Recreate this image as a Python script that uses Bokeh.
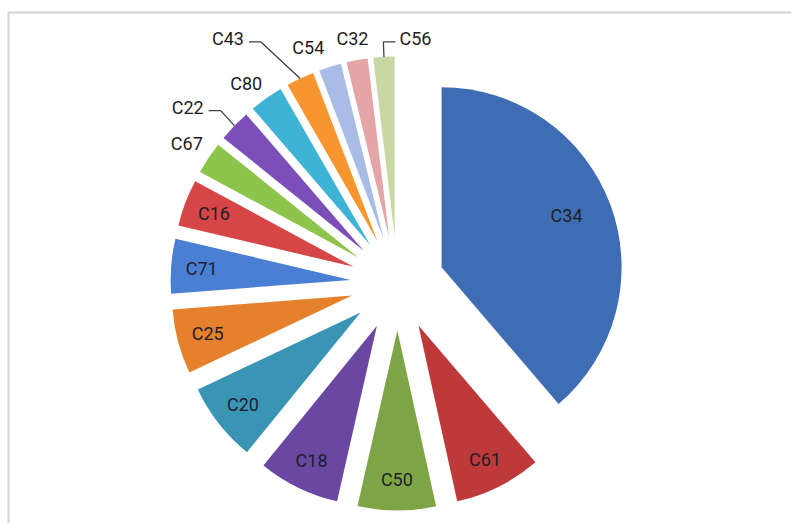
import numpy as np
from bokeh.plotting import figure
from bokeh.models import Range1d, ColumnDataSource
from bokeh.embed import file_html
from bokeh.resources import INLINE
from bokeh.core.properties import value

# Slices in clockwise order starting at 12 o'clock
labels = ["C34", "C61", "C50", "C18", "C20", "C25", "C71", "C16",
          "C67", "C22", "C80", "C43", "C54", "C32", "C56"]
shares = [38.7, 7.8, 7.0, 7.3, 7.1, 5.8, 4.9, 4.2,
          2.9, 2.9, 3.0, 2.5, 2.0, 1.9, 1.9]
colors = ["#3F6DB3", "#BE3A3A", "#7EA545", "#6A47A0", "#3A95B5", "#E5802C",
          "#4A80D3", "#D64646", "#8DC44C", "#7C4FB8", "#3FB3D6", "#F7952F",
          "#A8BCE6", "#E3A5A6", "#C8D8A4"]

W, H = 791, 523
CX, CY = 397.0, H - 283.0      # pie centre (data units = pixels, y up)
R = 180.0                      # slice radius
EXPLODE = 47.0                 # distance every slice is pulled out
INSIDE_MIN = 4.0               # slices at least this big carry their label inside

# nudges (screen px, y down) for outside labels that would collide
nudge = {"C22": (-28, 0), "C80": (-5, 6), "C43": (-61, -16),
         "C54": (-14, 6), "C32": (0, 4), "C56": (33, 8)}
leader_for = {"C22", "C43", "C56"}

vals = np.array(shares, dtype=float)
frac = vals / vals.sum()
cum = np.concatenate([[0.0], np.cumsum(frac)]) * 360.0   # clockwise degrees from top
t0, t1 = cum[:-1], cum[1:]
tm = (t0 + t1) / 2.0

start = np.radians(90.0 - t0)
end = np.radians(90.0 - t1)
mid = np.radians(90.0 - tm)
dx, dy = np.cos(mid), np.sin(mid)
ax = CX + EXPLODE * dx
ay = CY + EXPLODE * dy

p = figure(width=W, height=H, x_range=Range1d(0, W), y_range=Range1d(0, H),
           output_backend="svg", toolbar_location=None, min_border=0,
           x_axis_location=None, y_axis_location=None)
p.xgrid.visible = False
p.ygrid.visible = False
p.outline_line_color = None
p.background_fill_color = "white"
p.border_fill_color = "white"

# chart-area border
p.line([8, 8], [H - 12, 0], line_color="#D4D4D4", line_width=2)
p.line([8, W], [H - 12, H - 12], line_color="#D4D4D4", line_width=2)

src = ColumnDataSource(dict(x=ax, y=ay, start=start, end=end, color=colors))
p.wedge(x="x", y="y", radius=R, start_angle="start", end_angle="end",
        direction="clock", fill_color="color", line_color=None, source=src)

in_x, in_y, in_t = [], [], []
out_x, out_y, out_t = [], [], []
lead_xs, lead_ys = [], []
largest = int(np.argmax(vals))
HALF_W = 17
for i, lab in enumerate(labels):
    if vals[i] >= INSIDE_MIN:
        f = 0.74 if i == largest else 0.83
        in_x.append(ax[i] + f * R * dx[i])
        in_y.append(ay[i] + f * R * dy[i] + (6 if i == largest else 0))
        in_t.append(lab)
    else:
        nx, ny = nudge.get(lab, (0, 0))
        lx = ax[i] + (R + 26) * dx[i] + nx
        ly = ay[i] + (R + 26) * dy[i] - ny
        out_x.append(lx)
        out_y.append(ly)
        out_t.append(lab)
        if lab in leader_for:
            tx = ax[i] + R * dx[i]
            ty = ay[i] + R * dy[i]
            hy = ly - 3
            if lx < tx:
                sx = lx + HALF_W + 4
                ex = sx + 12
            else:
                sx = lx - HALF_W - 3
                ex = sx - 12
            lead_xs.append([sx, ex, tx])
            lead_ys.append([hy, hy, ty])

p.multi_line(lead_xs, lead_ys, line_color="#404040", line_width=1.3)

font = value("Roboto")
p.text(in_x, in_y, text=in_t, text_align="center", text_baseline="middle",
       text_font=font, text_font_size="18px", text_color="#1E1E2A")
p.text(out_x, out_y, text=out_t, text_align="center", text_baseline="middle",
       text_font=font, text_font_size="18px", text_color="#1E1E1E")

open("out.html", "w").write(file_html(p, INLINE))
